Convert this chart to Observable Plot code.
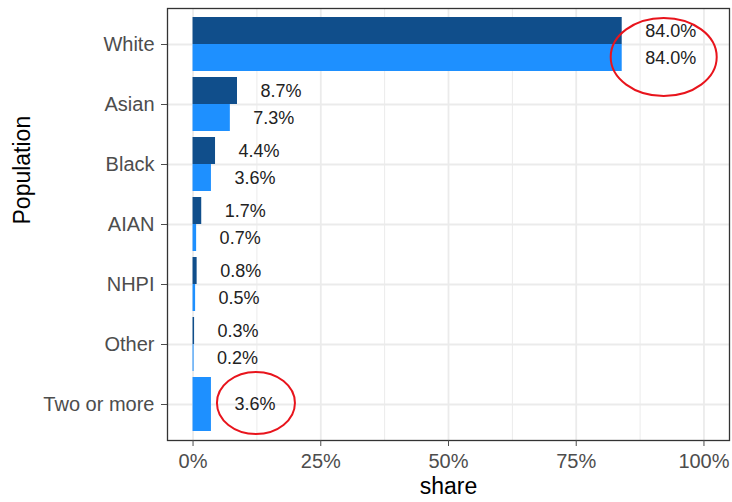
<!DOCTYPE html>
<html>
<head>
<meta charset="utf-8">
<script src="https://cdn.jsdelivr.net/npm/d3@7"></script>
<script src="https://cdn.jsdelivr.net/npm/@observablehq/plot@0.6"></script>
<style>
  html, body { margin: 0; padding: 0; background: #fff; }
  svg { display: block; font-family: "Liberation Sans", Arial, sans-serif; }
</style>
</head>
<body>
<div id="chart"></div>
<script>
// ---- data ----
const categories = ["White", "Asian", "Black", "AIAN", "NHPI", "Other", "Two or more"];
const seriesNames = ["Series 1", "Series 2"];
const series1 = [0.840, 0.087, 0.044, 0.017, 0.008, 0.003, null];
const series2 = [0.840, 0.073, 0.036, 0.007, 0.005, 0.002, 0.036];
const xTicks = [0, 0.25, 0.5, 0.75, 1];
const xMinorTicks = [0.125, 0.375, 0.625, 0.875];
const highlighted = ["White", "Two or more"];

// ---- dodge rows (like position_dodge, total width 0.9) ----
const rows = [];
categories.forEach((c, i) => {
  const vals = [series1[i], series2[i]]
    .map((v, j) => ({series: seriesNames[j], value: v}))
    .filter(d => d.value != null);
  const w = 0.9 / vals.length;
  vals.forEach((d, j) => {
    const y1 = (i + 1) - 0.45 + j * w;
    rows.push({category: c, series: d.series, value: d.value, y1, y2: y1 + w, ym: y1 + w / 2});
  });
});
const idx = categories.map((c, i) => i + 1);

const chart = Plot.plot({
  width: 732,
  height: 502,
  marginLeft: 167,
  marginRight: 3,
  marginTop: 8,
  marginBottom: 62,
  style: {fontFamily: '"Liberation Sans", Arial, sans-serif', background: "#fff"},
  x: {domain: [-0.05, 1.05]},
  y: {domain: [0.4, 7.6], reverse: true},
  color: {domain: seriesNames, range: ["#104E8B", "#1E90FF"]},
  marks: [
    Plot.ruleX(xMinorTicks, {stroke: "#ebebeb", strokeWidth: 1}),
    Plot.ruleX(xTicks, {stroke: "#ebebeb", strokeWidth: 1.8}),
    Plot.ruleY(idx, {stroke: "#ebebeb", strokeWidth: 1.8}),
    Plot.rect(rows, {x1: () => 0, x2: "value", y1: "y1", y2: "y2", fill: "series"}),
    Plot.text(rows, {
      x: "value", y: "ym", text: d => (d.value * 100).toFixed(1) + "%",
      dx: 23, textAnchor: "start", fontSize: 18, fill: "#222"
    }),
    Plot.frame({stroke: "#333", strokeWidth: 1.3}),
    Plot.axisX({
      ticks: xTicks, tickFormat: d => Math.round(d * 100) + "%",
      tickSize: 6, tickPadding: 7, fontSize: 20, color: "#4d4d4d", label: null
    }),
    Plot.axisY({
      ticks: idx, tickFormat: i => categories[i - 1],
      tickSize: 6, tickPadding: 7, fontSize: 20, color: "#4d4d4d", label: null
    }),
    Plot.text(["share"], {frameAnchor: "bottom", dy: 53, fontSize: 23, fill: "#000"}),
    Plot.text(["Population"], {frameAnchor: "left", dx: -145, rotate: -90, fontSize: 23, fill: "#000"})
  ]
});
document.getElementById("chart").appendChild(chart);

// ---- red highlight ellipses around labels of highlighted categories ----
const xs = chart.scale("x"), ys = chart.scale("y");
const svg = d3.select(chart);
highlighted.forEach(cat => {
  const rs = rows.filter(r => r.category === cat);
  const maxV = d3.max(rs, r => r.value);
  const yTop = d3.min(rs, r => r.y1), yBot = d3.max(rs, r => r.y2);
  const labelCx = xs.apply(maxV) + 23 + 24;
  const single = rs.length === 1;
  const cy = (ys.apply(yTop) + ys.apply(yBot)) / 2 + (single ? -1 : 13);
  svg.append("ellipse")
    .attr("cx", labelCx - (single ? 2 : 5))
    .attr("cy", cy)
    .attr("rx", single ? 39 : 53)
    .attr("ry", single ? 31 : 39)
    .attr("fill", "none")
    .attr("stroke", "#e8141c")
    .attr("stroke-width", 2);
});
</script>
</body>
</html>
